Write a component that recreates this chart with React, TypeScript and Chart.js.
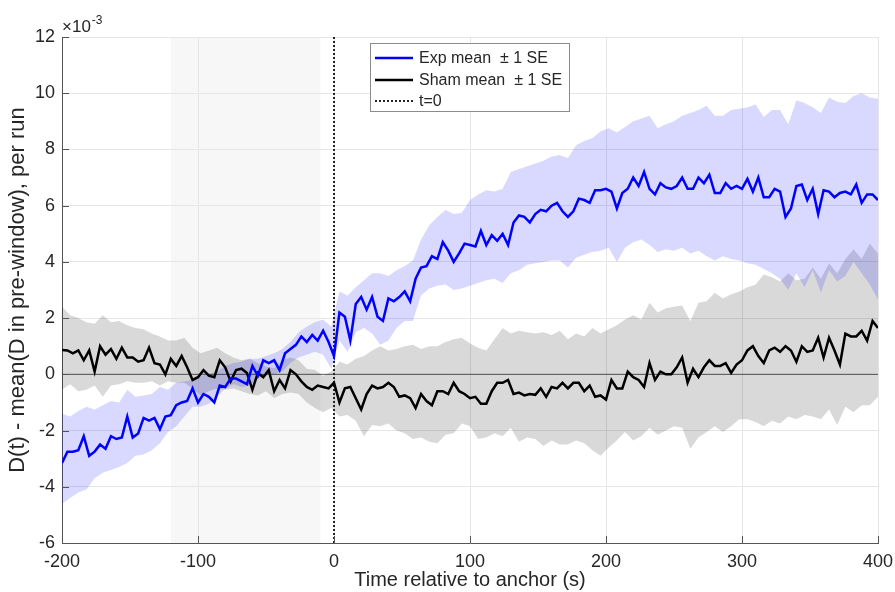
import { useEffect, useRef } from 'react';
import { Chart, registerables } from 'chart.js';

Chart.register(...registerables);

// ---- data (values in units of 1e-3) ----
const T_START = -200;
const MEAN_STEP = 4; // s
const BAND_STEP = 6; // s

const expMean = [
  -3.15, -2.75, -2.75, -2.7, -2.2, -2.9, -2.75, -2.5, -2.65, -2.2,
  -2.3, -2.25, -1.5, -2.25, -2.1, -1.55, -1.65, -1.55, -1.95, -1.5,
  -1.45, -1.1, -1.0, -0.95, -0.5, -1.0, -0.7, -0.8, -1.0, -0.4,
  -0.45, -0.15, -0.15, -0.25, -0.35, 0.3, -0.05, 0.5, 0.4, 0.5,
  0.15, 0.75, 0.9, 1.05, 1.35, 1.15, 1.4, 1.2, 1.55, 1.15,
  0.65, 2.2, 2.05, 1.2, 2.5, 2.75, 2.3, 2.75, 2.05, 1.9,
  2.7, 2.6, 2.75, 2.95, 2.6, 3.4, 3.8, 3.85, 4.2, 4.1,
  4.7, 4.4, 4.0, 4.3, 4.65, 4.6, 4.55, 5.1, 4.6, 4.95,
  4.75, 5.0, 4.6, 5.4, 5.65, 5.6, 5.4, 5.7, 5.85, 5.8,
  6.0, 6.1, 5.8, 5.6, 5.8, 6.25, 6.2, 6.1, 6.55, 6.55,
  6.6, 6.5, 5.9, 6.45, 6.6, 7.0, 6.7, 7.2, 6.6, 6.4,
  6.8, 6.65, 6.6, 6.7, 7.0, 6.6, 6.6, 7.0, 6.8, 7.1,
  6.45, 6.45, 6.8, 6.6, 6.7, 6.6, 6.95, 6.5, 7.0, 6.3,
  6.3, 6.6, 6.5, 5.6, 5.9, 6.7, 6.75, 6.2, 6.6, 5.7,
  6.55, 6.5, 6.3, 6.45, 6.5, 6.4, 6.75, 6.1, 6.4, 6.4,
  6.2,
];

const shamMean = [
  0.87, 0.85, 0.75, 0.85, 0.5, 0.85, 0.1, 1.0, 0.7, 0.9,
  0.55, 0.95, 0.6, 0.6, 0.45, 0.5, 0.95, 0.4, 0.35, 0.0,
  0.55, 0.3, 0.65, 0.25, -0.2, -0.1, 0.15, -0.05, -0.1, 0.5,
  0.25, -0.25, 0.15, 0.2, 0.05, -0.55, 0.05, -0.1, 0.15, -0.6,
  -0.2, -0.5, 0.15, 0.0, -0.25, -0.45, -0.55, -0.4, -0.45, -0.5,
  -0.3, -1.0, -0.5, -0.45, -0.85, -1.25, -0.7, -0.4, -0.5, -0.45,
  -0.3, -0.45, -0.8, -0.75, -0.85, -1.2, -0.7, -0.95, -1.1, -0.6,
  -0.6, -0.7, -0.3, -0.6, -0.7, -0.85, -0.8, -1.05, -1.05, -0.6,
  -0.3, -0.3, -0.2, -0.7, -0.65, -0.75, -0.7, -0.73, -0.5, -0.8,
  -0.45, -0.5, -0.3, -0.5, -0.3, -0.3, -0.6, -0.4, -0.8, -0.75,
  -0.9, -0.2, -0.5, -0.5, 0.1, -0.1, -0.2, -0.45, 0.4, -0.2,
  0.1, 0.0, 0.0, 0.25, 0.6, -0.3, 0.2, -0.1, 0.25, 0.5,
  0.3, 0.3, 0.4, 0.05, 0.35, 0.5, 0.85, 1.0, 0.65, 0.4,
  0.85, 0.95, 0.8, 1.0, 0.85, 0.45, 1.0, 0.8, 0.85, 1.3,
  0.6, 1.3, 0.85, 0.35, 1.45, 1.35, 1.35, 1.55, 1.2, 1.9,
  1.65,
];

const expUpper = [
  -1.4, -1.5, -1.3, -1.15, -1.25, -1.1, -0.95, -1.0, -0.55, -0.8,
  -0.75, -0.7, -0.45, -0.55, -0.3, -0.25, -0.2, -0.05, 0.0, 0.1,
  0.3, 0.4, 0.45, 0.55, 0.55, 0.65, 0.75, 0.9, 1.15, 1.5,
  1.7, 1.85, 1.95, 1.7, 2.95, 2.8, 3.1, 3.35, 3.6, 3.6,
  3.5, 3.7, 3.85, 4.05, 4.8, 5.3, 5.6, 5.85, 5.7, 5.75,
  6.2, 6.4, 6.55, 6.5, 6.6, 7.2, 7.3, 7.4, 7.5, 7.6,
  7.75, 7.8, 7.7, 8.15, 8.3, 8.4, 8.65, 8.75, 8.6, 8.8,
  9.0, 9.1, 9.2, 8.75, 8.9, 9.0, 9.2, 9.3, 9.4, 9.55,
  9.2, 9.2, 9.4, 9.45, 9.5, 9.6, 9.15, 9.4, 9.4, 8.9,
  9.75, 9.65, 9.5, 9.3, 9.85, 9.7, 9.65, 9.9, 10.0, 9.85,
  9.8,
];

const expLower = [
  -4.6, -4.4, -4.2, -4.1, -3.7, -3.5, -3.4, -3.3, -3.15, -2.9,
  -2.85, -2.7, -2.45, -2.05, -1.85, -1.5, -1.15, -1.15, -1.05, -0.8,
  -0.5, -0.35, -0.45, -0.4, -0.15, 0.0, 0.0, 0.1, 0.4, 0.6,
  0.7, 0.8, 0.7, 0.2, 1.2, 0.8, 1.5, 1.65, 1.45, 1.05,
  1.2, 1.65, 1.9, 1.9, 2.8, 3.05, 3.15, 3.2, 3.0, 3.05,
  3.15, 3.25, 3.35, 3.4, 3.25, 3.6, 3.7, 3.9, 3.95, 4.0,
  4.05, 4.05, 3.8, 4.15, 4.25, 4.35, 4.4, 4.5, 4.0, 4.5,
  4.7, 4.8, 4.6, 4.35, 4.45, 4.4, 4.5, 4.3, 4.4, 4.2,
  4.05, 4.2, 4.1, 4.05, 3.95, 3.9, 3.75, 3.6, 3.4, 3.0,
  3.6, 3.1, 3.7, 2.9, 3.7, 3.3, 3.5, 4.0, 3.6, 3.2,
  2.65,
];

const shamUpper = [
  2.4, 2.1, 2.0, 1.85, 1.8, 2.1, 1.85, 1.9, 1.75, 1.65,
  1.6, 1.45, 1.35, 1.2, 1.2, 1.3, 0.95, 0.75, 0.85, 0.95,
  0.75, 0.6, 0.5, 0.55, 0.4, 0.28, 0.22, 0.5, 0.6, 0.5,
  0.2, 0.15, -0.05, 0.1, 0.45, 0.35, 0.55, 0.65, 0.85, 1.0,
  0.85, 0.9, 1.0, 1.05, 0.9, 1.0, 1.0, 1.15, 1.25, 1.3,
  1.1, 0.95, 0.85, 1.25, 1.65, 1.45, 1.55, 1.5, 1.45, 1.5,
  1.4, 1.55, 1.25, 1.45, 1.35, 1.65, 1.45, 1.6, 1.75, 1.95,
  2.1, 1.95, 2.55, 2.2, 2.35, 2.4, 2.45, 1.9, 2.55, 2.6,
  2.9, 2.7, 2.85, 2.95, 3.1, 3.2, 3.55, 3.45, 3.3, 3.6,
  3.35, 3.4, 3.8, 3.4, 3.95, 3.6, 4.1, 4.45, 4.1, 4.65,
  4.3,
];

const shamLower = [
  -0.55, -0.35, -0.6, -0.55, -0.4, -0.8, -0.4, -0.35, -0.25, -0.3,
  -0.3, -0.25, -0.4, -0.25, -0.3, -0.3, -0.5, -0.75, -0.6, -0.5,
  -0.55, -0.5, -0.6, -0.7, -0.75, -0.6, -0.85, -0.7, -0.65, -0.7,
  -1.0, -1.2, -1.35, -1.2, -1.5, -1.45, -1.65, -2.2, -1.8, -1.85,
  -1.75, -2.0, -2.1, -2.3, -2.25, -2.4, -2.45, -2.15, -2.1, -1.75,
  -1.85, -2.3, -2.25, -2.1, -2.2, -1.9, -2.4, -2.25, -2.3, -2.55,
  -2.35, -2.5, -2.5, -2.35, -2.45, -2.7, -2.9, -2.6, -2.35, -2.05,
  -2.35, -2.2, -1.9, -2.15, -2.0, -1.85, -1.9, -2.65, -2.25, -2.05,
  -1.85, -2.05, -1.85, -1.6, -1.6, -1.7, -1.85, -1.65, -1.75, -1.5,
  -1.6, -1.45, -1.5, -1.6, -1.25, -1.8, -1.15, -1.35, -1.1, -1.1,
  -0.8,
];

const X_MIN = -200;
const X_MAX = 400;
const X_STEP = 100;
const Y_MIN = -6;
const Y_MAX = 12;
const Y_STEP = 2;
const PRE_WINDOW = [-120, -10];
const ANCHOR_T = 0;

const LEGEND_LABELS = ['Exp mean  \u00B1 1 SE', 'Sham mean  \u00B1 1 SE', 't=0'];
const X_TITLE = 'Time relative to anchor (s)';
const Y_TITLE = 'D(t) - mean(D in pre-window), per run';

// ---- styles ----
const FONT = '"Liberation Sans", Arial, Helvetica, sans-serif';
const TEXT = '#262626';
const BLUE = '#0000ff';
const BLUE_BAND = 'rgba(0,0,255,0.15)';
const GRAY_BAND = 'rgba(0,0,0,0.15)';
const GRID = '#e6e6e6';
const AXIS = '#555555';

const toXY = (arr: number[], step: number) => arr.map((v, i) => ({ x: T_START + i * step, y: v }));

const overlayPlugin = {
  id: 'overlay',
  beforeDraw(chart: any) {
    const { ctx, chartArea: a, scales } = chart;
    const x0 = scales.x.getPixelForValue(PRE_WINDOW[0]);
    const x1 = scales.x.getPixelForValue(PRE_WINDOW[1]);
    ctx.save();
    ctx.fillStyle = '#f7f7f7';
    ctx.fillRect(x0, a.top, x1 - x0, a.bottom - a.top);
    ctx.restore();
  },
  afterDraw(chart: any) {
    const { ctx, chartArea: a, scales } = chart;
    ctx.save();
    // inward ticks
    ctx.strokeStyle = AXIS;
    ctx.lineWidth = 1;
    ctx.beginPath();
    scales.y.ticks.forEach((t: any) => {
      const y = Math.round(scales.y.getPixelForValue(t.value)) + 0.5;
      ctx.moveTo(a.left, y);
      ctx.lineTo(a.left + 7, y);
    });
    scales.x.ticks.forEach((t: any) => {
      const x = Math.round(scales.x.getPixelForValue(t.value)) + 0.5;
      ctx.moveTo(x, a.bottom);
      ctx.lineTo(x, a.bottom - 7);
    });
    ctx.stroke();

    // exponent label
    ctx.fillStyle = TEXT;
    ctx.textBaseline = 'alphabetic';
    ctx.textAlign = 'left';
    ctx.font = `17px ${FONT}`;
    ctx.fillText('\u00D710', a.left, a.top - 5);
    const w = ctx.measureText('\u00D710').width;
    ctx.font = `12px ${FONT}`;
    ctx.fillText('-3', a.left + w + 1, a.top - 13);

    // legend
    const bx = a.left + 308;
    const by = a.top + 6;
    const bw = 199;
    const bh = 68;
    ctx.fillStyle = '#ffffff';
    ctx.fillRect(bx, by, bw, bh);
    ctx.strokeStyle = '#8c8c8c';
    ctx.lineWidth = 1;
    ctx.strokeRect(bx + 0.5, by + 0.5, bw, bh);
    const rows = [by + 15, by + 37, by + 58];
    const styles = [
      { color: BLUE, width: 2.5, dash: [] as number[] },
      { color: '#000000', width: 2.5, dash: [] as number[] },
      { color: '#262626', width: 2, dash: [2, 2] },
    ];
    rows.forEach((ry, i) => {
      ctx.beginPath();
      ctx.strokeStyle = styles[i].color;
      ctx.lineWidth = styles[i].width;
      ctx.setLineDash(styles[i].dash);
      ctx.moveTo(bx + 5, ry);
      ctx.lineTo(bx + 43, ry);
      ctx.stroke();
      ctx.setLineDash([]);
      ctx.fillStyle = TEXT;
      ctx.font = `16px ${FONT}`;
      ctx.textBaseline = 'middle';
      ctx.fillText(LEGEND_LABELS[i], bx + 49, ry + 1);
    });
    ctx.restore();
  },
};

export default function App() {
  const ref = useRef<HTMLCanvasElement>(null);
  useEffect(() => {
    const canvas = ref.current;
    if (!canvas) return;
    const line = (data: any[], color: string, width: number, extra: any = {}) => ({
      data,
      borderColor: color,
      borderWidth: width,
      pointRadius: 0,
      tension: 0,
      fill: false,
      ...extra,
    });
    const chart = new Chart(canvas, {
      type: 'line',
      data: {
        datasets: [
          line(toXY(expMean, MEAN_STEP), BLUE, 2.5),
          line(toXY(shamMean, MEAN_STEP), '#000000', 2.5),
          line([{ x: ANCHOR_T, y: Y_MIN }, { x: ANCHOR_T, y: Y_MAX }], '#262626', 2, { borderDash: [2, 2] }),
          line([{ x: X_MIN, y: 0 }, { x: X_MAX, y: 0 }], 'rgba(0,0,0,0.6)', 1),
          line(toXY(expUpper, BAND_STEP), 'rgba(0,0,0,0)', 0, { fill: '+1', backgroundColor: BLUE_BAND }),
          line(toXY(expLower, BAND_STEP), 'rgba(0,0,0,0)', 0),
          line(toXY(shamUpper, BAND_STEP), 'rgba(0,0,0,0)', 0, { fill: '+1', backgroundColor: GRAY_BAND }),
          line(toXY(shamLower, BAND_STEP), 'rgba(0,0,0,0)', 0),
        ],
      },
      options: {
        responsive: false,
        animation: false,
        devicePixelRatio: 1,
        events: [],
        layout: { padding: { left: 0, right: 17, top: 37, bottom: 0 } },
        plugins: { legend: { display: false }, tooltip: { enabled: false } },
        scales: {
          x: {
            type: 'linear',
            min: X_MIN,
            max: X_MAX,
            grid: { color: GRID, drawTicks: false },
            border: { color: AXIS, width: 1 },
            ticks: { stepSize: X_STEP, font: { family: FONT, size: 18 }, color: TEXT, padding: 8, maxRotation: 0, autoSkip: false },
            title: { display: true, text: X_TITLE, font: { family: FONT, size: 20 }, color: TEXT, padding: { top: 0, bottom: 0 } },
            afterFit: (s: any) => { s.height = 49; s.paddingLeft = 0; s.paddingRight = 0; },
          },
          y: {
            type: 'linear',
            min: Y_MIN,
            max: Y_MAX,
            grid: { color: GRID, drawTicks: false },
            border: { color: AXIS, width: 1 },
            ticks: { stepSize: Y_STEP, font: { family: FONT, size: 18 }, color: TEXT, padding: 7 },
            title: { display: true, text: Y_TITLE, font: { family: FONT, size: 22 }, color: TEXT, padding: { top: 5, bottom: 0 } },
            afterFit: (s: any) => { s.width = 62; s.paddingTop = 0; s.paddingBottom = 0; },
          },
        },
      },
      plugins: [overlayPlugin],
    } as any);
    return () => chart.destroy();
  }, []);
  return (
    <div style={{ position: 'fixed', left: 0, top: 0, width: 895, height: 592, background: '#ffffff' }}>
      <canvas ref={ref} width={895} height={592} style={{ display: 'block', width: 895, height: 592 }} />
    </div>
  );
}
